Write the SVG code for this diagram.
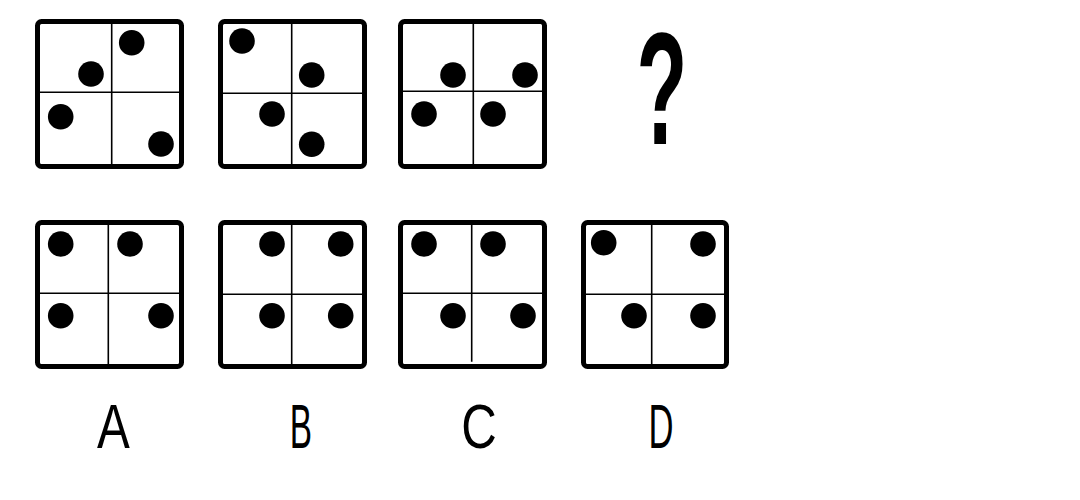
<svg xmlns="http://www.w3.org/2000/svg" width="1080" height="500" viewBox="0 0 1080 500">
<style>
.frame{fill:#fff;stroke:#000;stroke-width:5}
.div{stroke:#000;stroke-width:1.6;fill:none}
.dot{fill:#000}
.lbl{font-family:"Liberation Sans",Arial,sans-serif;font-size:63px;fill:#000;text-anchor:middle}
.q{font-family:"Liberation Sans",Arial,sans-serif;font-weight:bold;font-size:160px;fill:#000;text-anchor:middle}
</style>
<rect width="1080" height="500" fill="#fff"/>
<g id="box1">
<rect class="frame" x="37.5" y="21.5" width="144" height="145" rx="4"/>
<path class="div" d="M111.7 24V164M40 92.3H179"/>
<circle class="dot" cx="131.7" cy="42.7" r="12.8"/>
<circle class="dot" cx="91" cy="74" r="12.8"/>
<circle class="dot" cx="60.7" cy="116.7" r="12.8"/>
<circle class="dot" cx="161" cy="144" r="12.8"/>
</g>
<g id="box2">
<rect class="frame" x="220.5" y="21.5" width="144" height="145" rx="4"/>
<path class="div" d="M291.7 24V164M223 93.3H362"/>
<circle class="dot" cx="242" cy="41" r="12.8"/>
<circle class="dot" cx="311.7" cy="75" r="12.8"/>
<circle class="dot" cx="272" cy="114" r="12.8"/>
<circle class="dot" cx="311.7" cy="144.3" r="12.8"/>
</g>
<g id="box3">
<rect class="frame" x="400.5" y="21.5" width="144" height="145" rx="4"/>
<path class="div" d="M473.3 24V164M403 91.3H542"/>
<circle class="dot" cx="453" cy="75" r="12.8"/>
<circle class="dot" cx="525" cy="75" r="12.8"/>
<circle class="dot" cx="424" cy="114" r="12.8"/>
<circle class="dot" cx="493" cy="114" r="12.8"/>
</g>
<g id="question">
<text class="q" transform="translate(662,144) scale(0.52,1)" x="0" y="0">?</text>
</g>
<g id="optA">
<rect class="frame" x="37.5" y="222.5" width="144" height="144" rx="4"/>
<path class="div" d="M108.3 225V364M40 293.3H179"/>
<circle class="dot" cx="60.7" cy="244" r="12.8"/>
<circle class="dot" cx="130" cy="244" r="12.8"/>
<circle class="dot" cx="60.7" cy="315.7" r="12.8"/>
<circle class="dot" cx="161" cy="315.7" r="12.8"/>
<text class="lbl" transform="translate(113.5,448) scale(0.78,1)">A</text>
</g>
<g id="optB">
<rect class="frame" x="220.5" y="222.5" width="144" height="144" rx="4"/>
<path class="div" d="M291.7 225V364M223 294.3H362"/>
<circle class="dot" cx="272" cy="244" r="12.8"/>
<circle class="dot" cx="340.7" cy="244" r="12.8"/>
<circle class="dot" cx="272" cy="315.7" r="12.8"/>
<circle class="dot" cx="340.7" cy="315.7" r="12.8"/>
<text class="lbl" transform="translate(301,448) scale(0.53,1)">B</text>
</g>
<g id="optC">
<rect class="frame" x="400.5" y="222.5" width="144" height="144" rx="4"/>
<path class="div" d="M471.7 225V361.7M403 293.3H542"/>
<circle class="dot" cx="424" cy="244" r="12.8"/>
<circle class="dot" cx="493" cy="244" r="12.8"/>
<circle class="dot" cx="453" cy="315.7" r="12.8"/>
<circle class="dot" cx="523" cy="315.7" r="12.8"/>
<text class="lbl" transform="translate(479,448) scale(0.78,1)">C</text>
</g>
<g id="optD">
<rect class="frame" x="583.5" y="222.5" width="143" height="144" rx="4"/>
<path class="div" d="M651.7 225V364M586 294.3H724"/>
<circle class="dot" cx="603.7" cy="242.7" r="12.8"/>
<circle class="dot" cx="703" cy="244" r="12.8"/>
<circle class="dot" cx="634" cy="315.7" r="12.8"/>
<circle class="dot" cx="703" cy="315.7" r="12.8"/>
<text class="lbl" transform="translate(661,448) scale(0.55,1)">D</text>
</g>
<g id="connectors"></g>
</svg>
